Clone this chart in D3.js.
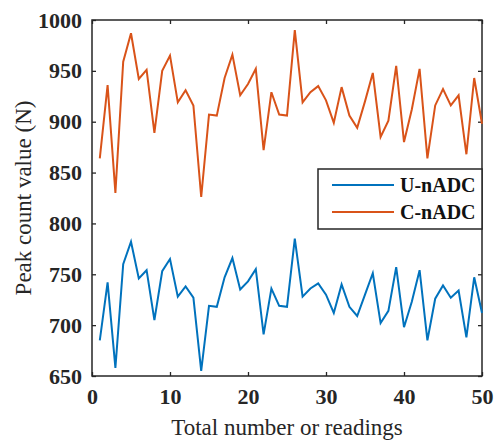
<!DOCTYPE html>
<html>
<head>
<meta charset="utf-8">
<script src="https://cdn.jsdelivr.net/npm/d3@7"></script>
<style>
  text { font-family: "Liberation Serif", serif !important; }
</style>
</head>
<body style="margin:0">
<script>
var width = 497;
var height = 441;

// data (readings 1..50)
var readings = d3.range(1, 51);
var uValues = [685, 742, 658, 760, 782, 746, 754, 705, 753, 765,
  728, 738, 727, 655, 719, 718, 747, 766, 735, 743,
  755, 691, 736, 719, 718, 785, 728, 736, 741, 730,
  712, 740, 718, 709, 730, 751, 702, 714, 757, 698,
  723, 754, 685, 726, 739, 727, 734, 688, 747, 712];
var cValues = [864, 936, 830, 959, 987, 942, 951, 889, 950, 965,
  919, 931, 916, 826, 907, 906, 943, 966, 926, 937,
  952, 872, 929, 907, 906, 990, 919, 929, 935, 921,
  899, 934, 906, 894, 920, 948, 885, 901, 955, 880,
  912, 952, 864, 916, 932, 916, 926, 868, 943, 898];
var seriesNames = ["U-nADC", "C-nADC"];
var seriesColors = ["#0072BD", "#D95319"];
var xTicks = [0, 10, 20, 30, 40, 50];
var yTicks = [650, 700, 750, 800, 850, 900, 950, 1000];

var margin = {top: 20, right: 15, bottom: 65, left: 92};
var innerW = width - margin.left - margin.right;
var innerH = height - margin.top - margin.bottom;

var svg = d3.select("body")
  .append("svg")
  .attr("width", width)
  .attr("height", height)
  .style("font-family", '"Liberation Serif"');

var g = svg.append("g")
  .attr("transform", `translate(${margin.left},${margin.top})`);

var x = d3.scaleLinear().domain([0, 50]).range([0, innerW]);
var y = d3.scaleLinear().domain([650, 1000]).range([innerH, 0]);

var axisColor = "#262626";

function styleAxis(sel, showLabels) {
  sel.attr("font-family", null).attr("font-size", null);
  sel.select(".domain").remove();
  sel.selectAll(".tick line").attr("stroke", axisColor).attr("stroke-width", 1.3);
  sel.selectAll(".tick text")
    .attr("fill", axisColor)
    .style("font-size", "22px")
    .style("font-weight", "bold")
    .style("display", showLabels ? null : "none");
}

// bottom / top
g.append("g")
  .attr("transform", `translate(0,${innerH})`)
  .call(d3.axisBottom(x).tickValues(xTicks).tickFormat(d3.format("d"))
    .tickSizeInner(-4).tickSizeOuter(0).tickPadding(12))
  .call(s => styleAxis(s, true));
g.append("g")
  .call(d3.axisTop(x).tickValues(xTicks).tickSizeInner(-4).tickSizeOuter(0))
  .call(s => styleAxis(s, false));

// left / right
g.append("g")
  .call(d3.axisLeft(y).tickValues(yTicks).tickFormat(d3.format("d"))
    .tickSizeInner(-4).tickSizeOuter(0).tickPadding(10))
  .call(s => styleAxis(s, true));
g.append("g")
  .attr("transform", `translate(${innerW},0)`)
  .call(d3.axisRight(y).tickValues(yTicks).tickSizeInner(-4).tickSizeOuter(0))
  .call(s => styleAxis(s, false));

// frame
g.append("rect")
  .attr("width", innerW)
  .attr("height", innerH)
  .attr("fill", "none")
  .attr("stroke", axisColor)
  .attr("stroke-width", 1.5);

var line = d3.line()
  .x((d, i) => x(readings[i]))
  .y(d => y(d));

[uValues, cValues].forEach(function(vals, k) {
  g.append("path")
    .datum(vals)
    .attr("fill", "none")
    .attr("stroke", seriesColors[k])
    .attr("stroke-width", 2)
    .attr("d", line);
});

// legend
var legend = g.append("g")
  .attr("transform", `translate(${318 - margin.left},${169 - margin.top})`);
legend.append("rect")
  .attr("width", innerW - (318 - margin.left))
  .attr("height", 60)
  .attr("fill", "#fff")
  .attr("stroke", axisColor)
  .attr("stroke-width", 1.5);
seriesNames.forEach(function(name, k) {
  var ly = 16 + k * 27;
  legend.append("line")
    .attr("x1", 14).attr("x2", 76)
    .attr("y1", ly).attr("y2", ly)
    .attr("stroke", seriesColors[k])
    .attr("stroke-width", 2);
  legend.append("text")
    .attr("x", 82)
    .attr("y", ly)
    .attr("dy", "0.35em")
    .attr("fill", "#111")
    .style("font-size", "20px")
    .style("font-weight", "bold")
    .text(name);
});

// axis titles
svg.append("text")
  .attr("x", margin.left + innerW / 2)
  .attr("y", 435)
  .attr("text-anchor", "middle")
  .attr("fill", axisColor)
  .style("font-size", "23px")
  .text("Total number or readings");

svg.append("text")
  .attr("transform", `translate(31,${margin.top + innerH / 2}) rotate(-90)`)
  .attr("text-anchor", "middle")
  .attr("fill", axisColor)
  .style("font-size", "23px")
  .text("Peak count value (N)");
</script>
</body>
</html>
